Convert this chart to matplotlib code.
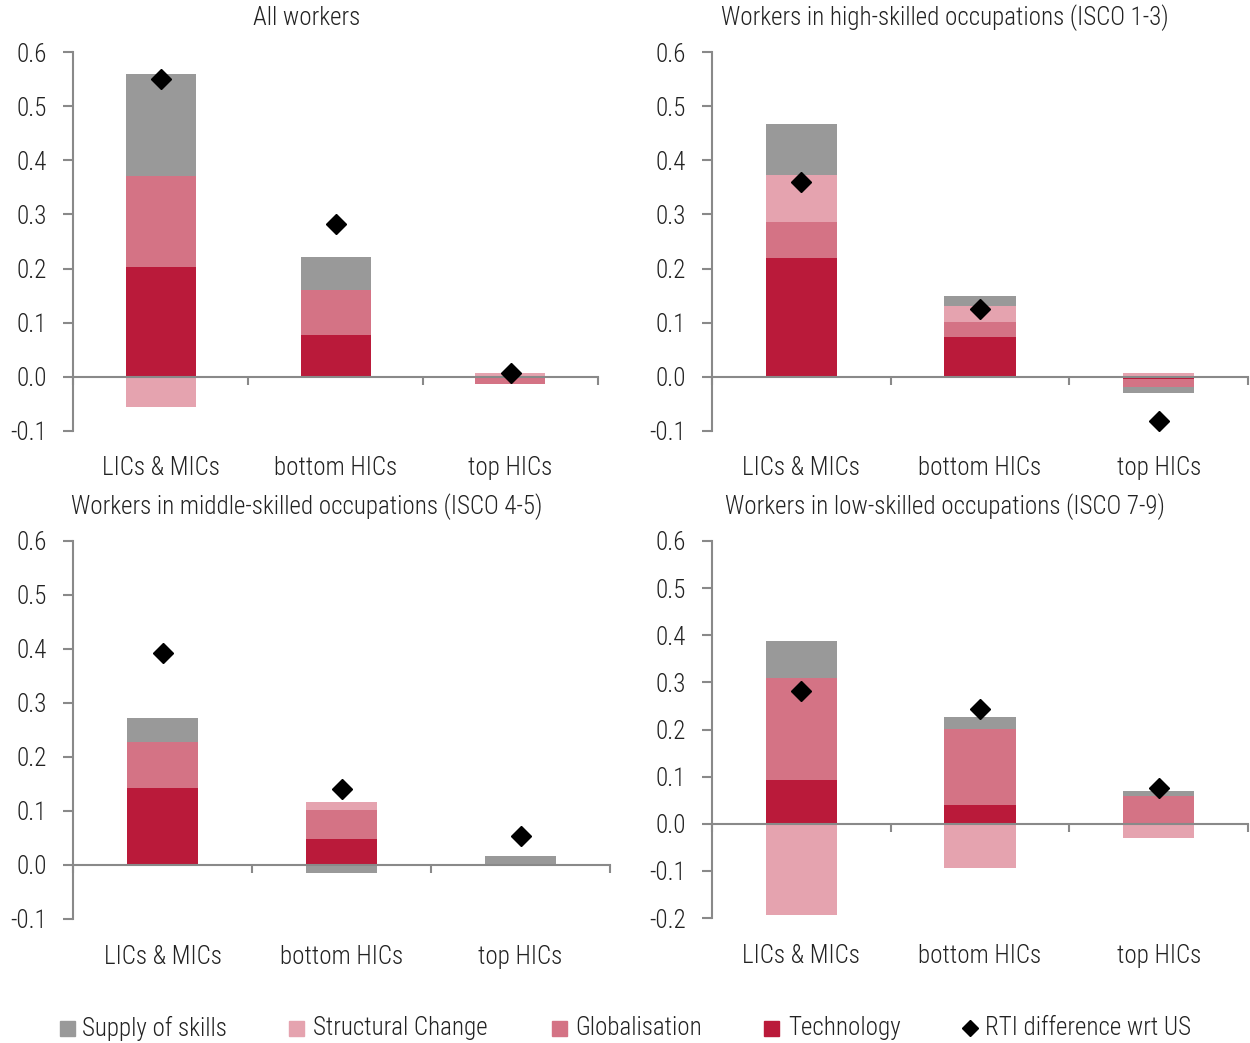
import numpy as np
import matplotlib
matplotlib.use("Agg")
import matplotlib.pyplot as plt
from matplotlib import font_manager
from matplotlib.patches import Rectangle

names = {f.name for f in font_manager.fontManager.ttflist}
font = "Roboto"
for cand in ["Roboto Condensed", "Liberation Sans Narrow"]:
    if cand in names:
        font = cand
        break
plt.rcParams["font.family"] = [font, "DejaVu Sans"]
plt.rcParams["font.weight"] = 300

categories = ["LICs & MICs", "bottom HICs", "top HICs"]
series_names = ["Supply of skills", "Structural Change", "Globalisation", "Technology"]
colors = {"Supply of skills": "#999999", "Structural Change": "#E5A3AF",
          "Globalisation": "#D47385", "Technology": "#BA1A3A"}

titles = ["All workers",
          "Workers in high-skilled occupations (ISCO 1-3)",
          "Workers in middle-skilled occupations (ISCO 4-5)",
          "Workers in low-skilled occupations (ISCO 7-9)"]

# values per panel: technology, globalisation, structural change, supply of skills, RTI diff
all_tech = [0.203, 0.077, -0.003]
all_glob = [0.168, 0.083, -0.010]
all_struct = [-0.055, 0.0, 0.008]
all_supply = [0.188, 0.061, 0.0]
all_rti = [0.550, 0.282, 0.007]

high_tech = [0.220, 0.074, -0.004]
high_glob = [0.066, 0.028, -0.015]
high_struct = [0.087, 0.029, 0.007]
high_supply = [0.094, 0.018, -0.011]
high_rti = [0.360, 0.125, -0.081]

mid_tech = [0.143, 0.048, 0.0]
mid_glob = [0.085, 0.054, 0.0]
mid_struct = [0.0, 0.014, -0.002]
mid_supply = [0.044, -0.015, 0.017]
mid_rti = [0.393, 0.141, 0.053]

low_tech = [0.092, 0.039, -0.003]
low_glob = [0.218, 0.163, 0.058]
low_struct = [-0.194, -0.094, -0.027]
low_supply = [0.078, 0.025, 0.012]
low_rti = [0.282, 0.243, 0.075]

panels = [
    (all_tech, all_glob, all_struct, all_supply, all_rti),
    (high_tech, high_glob, high_struct, high_supply, high_rti),
    (mid_tech, mid_glob, mid_struct, mid_supply, mid_rti),
    (low_tech, low_glob, low_struct, low_supply, low_rti),
]

W, H = 1250, 1043
# axes boxes in pixels: left, right, top, bottom
boxes = [(73, 598, 52, 431), (712, 1248, 52, 431),
         (73, 610, 541, 919), (712, 1248, 541, 918)]
ylims = [(-0.1, 0.6), (-0.1, 0.6), (-0.1, 0.6), (-0.2, 0.6)]
title_pos = [(307, 18), (945, 18), (307, 507), (945, 507)]

fig = plt.figure(figsize=(W / 100, H / 100), dpi=100)
axis_grey = "#898989"
txt = "#222222"
fs = 18

for i, (tech, glob, struct, supply, rti) in enumerate(panels):
    l, r, t, b = boxes[i]
    ax = fig.add_axes([l / W, 1 - b / H, (r - l) / W, (b - t) / H])
    x = np.arange(3) + 0.5
    pos = np.zeros(3)
    neg = np.zeros(3)
    for name, vals in [("Technology", tech), ("Globalisation", glob),
                       ("Structural Change", struct), ("Supply of skills", supply)]:
        vals = np.array(vals)
        base = np.where(vals >= 0, pos, neg)
        ax.bar(x, vals, 0.4, bottom=base, color=colors[name], linewidth=0, zorder=2)
        pos = np.where(vals >= 0, pos + vals, pos)
        neg = np.where(vals < 0, neg + vals, neg)
    ax.plot(x, rti, linestyle="none", marker="D", ms=10, color="black", zorder=4)

    lo, hi = ylims[i]
    ax.set_xlim(0, 3)
    ax.set_ylim(lo, hi)
    yt = np.round(np.arange(lo, hi + 0.001, 0.1), 1)
    ax.set_yticks(yt)
    ax.set_yticklabels([f"{v:.1f}" for v in yt], fontsize=fs)
    for s in ["top", "right"]:
        ax.spines[s].set_visible(False)
    ax.spines["left"].set_color(axis_grey)
    ax.spines["left"].set_linewidth(1.5)
    ax.spines["bottom"].set_position(("data", 0))
    ax.spines["bottom"].set_color(axis_grey)
    ax.spines["bottom"].set_linewidth(1.5)
    ax.spines["bottom"].set_zorder(3)
    ax.set_xticks([0, 1, 2, 3])
    ax.set_xticklabels([])
    ax.tick_params(axis="y", length=7, width=1.5, color=axis_grey, pad=12, labelcolor=txt)
    ax.tick_params(axis="x", length=6, width=1.5, color=axis_grey, direction="out")
    lab_y = -(468 - 431) / 379 if i < 2 else -(957 - 919) / 378
    for xc, c in zip(x, categories):
        ax.text(xc, lab_y, c, transform=ax.get_xaxis_transform(), ha="center",
                va="center", fontsize=fs, color=txt)
    tx, ty = title_pos[i]
    fig.text(tx / W, 1 - ty / H, titles[i], ha="center", va="center",
             fontsize=fs, color=txt)

# legend drawn entry by entry to match the reference spacing
leg_y = 1 - 1028 / H
sq_x = [60, 289, 552, 764]
txt_x = [82, 313, 575, 788]
sq = 15
for n, sx, tx in zip(series_names, sq_x, txt_x):
    fig.patches.append(Rectangle((sx / W, leg_y - sq / 2 / H), sq / W, sq / H,
                                 transform=fig.transFigure, color=colors[n]))
    fig.text(tx / W, leg_y, n, ha="left", va="center", fontsize=fs, color=txt)
fig.add_artist(matplotlib.lines.Line2D([970 / W], [leg_y], linestyle="none", marker="D",
                                       ms=8, color="black", transform=fig.transFigure))
fig.text(985 / W, leg_y, "RTI difference wrt US", ha="left", va="center",
         fontsize=fs, color=txt)

fig.savefig("out.png", dpi=100)
